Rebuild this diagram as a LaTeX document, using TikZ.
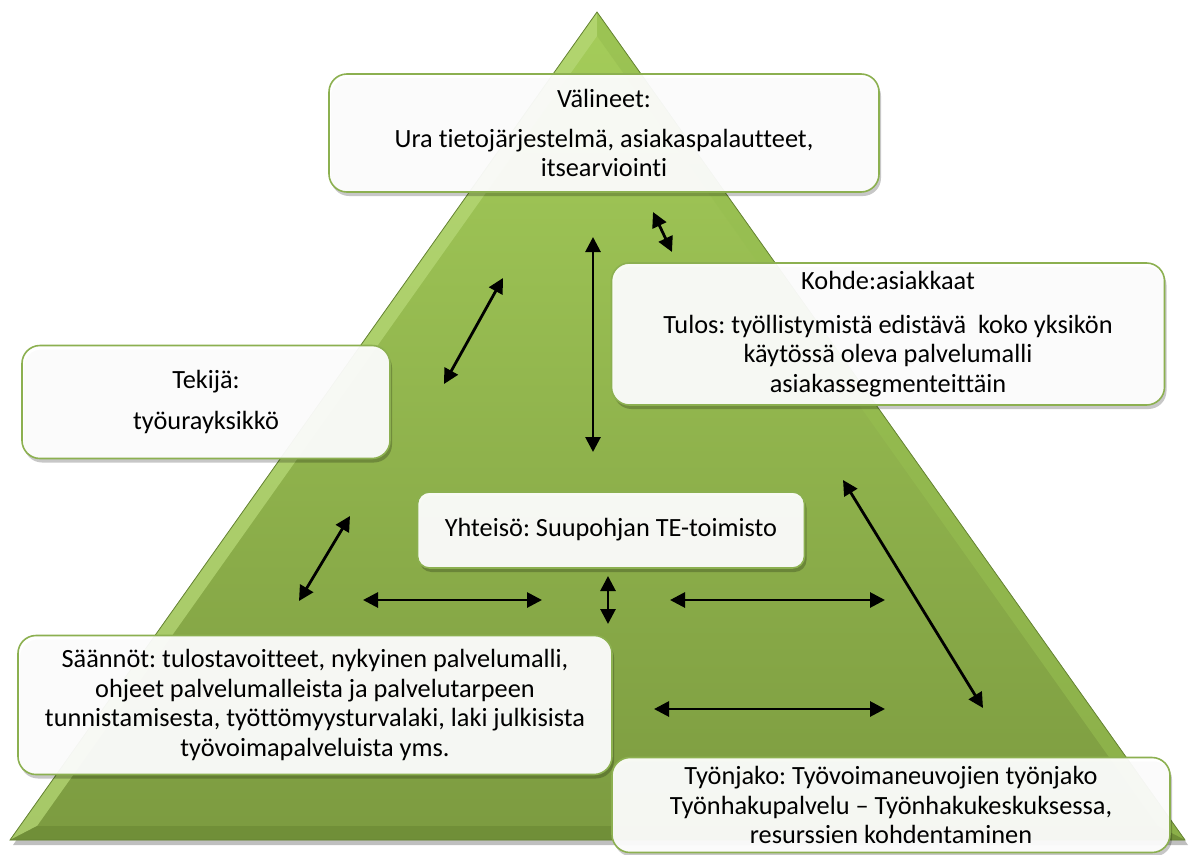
\documentclass[tikz,border=0pt]{standalone}
\usepackage{fontspec}
\setmainfont{Carlito}[Ligatures={NoCommon}]
\usetikzlibrary{arrows.meta,shadows}
\definecolor{trtop}{RGB}{165,205,90}
\definecolor{trbot}{RGB}{124,155,64}
\definecolor{bevlight}{RGB}{182,216,118}
\definecolor{bevright}{RGB}{150,190,80}
\definecolor{bevdark}{RGB}{108,138,54}
\definecolor{trline}{RGB}{100,130,50}
\definecolor{boxgreen}{RGB}{140,176,80}
\tikzset{
  box/.style={draw=boxgreen, line width=1.6pt, rounded corners=18pt, fill=white,
    fill opacity=0.94, text opacity=1, align=center, inner sep=0pt,
    font=\fontsize{26.3}{29.5}\selectfont,
    drop shadow={shadow xshift=2pt, shadow yshift=-4pt, opacity=0.22, fill=black}},
  dbl/.style={{Triangle[length=15pt,width=15pt]}-{Triangle[length=15pt,width=15pt]}, line width=2.8pt, black}
}
\frenchspacing
\begin{document}
\begin{tikzpicture}[x=1pt,y=-1pt]
\useasboundingbox (0,0) rectangle (1190,854);
% triangle shadow
\fill[black, opacity=0.25] (599,16) -- (13,845) -- (1188,845) -- cycle;
% triangle body
\shade[top color=trtop, bottom color=trbot] (597,12) -- (10,840) -- (1185,840) -- cycle;
% bevel
\fill[bevlight, opacity=0.75] (597,12) -- (10,840) -- (37,826) -- (597,36) -- cycle;
\fill[bevright, opacity=0.6] (597,12) -- (1185,840) -- (1158,826) -- (597,36) -- cycle;
\fill[bevdark, opacity=0.7] (10,840) -- (1185,840) -- (1158,826) -- (37,826) -- cycle;
\draw[trline, line width=0.8pt] (597,12) -- (10,840) -- (1185,840) -- cycle;

% boxes
\node[box, minimum width=550pt, minimum height=118pt] (val) at (604,133)
  {Välineet:\\[10pt]Ura tietojärjestelmä, asiakaspalautteet,\\itsearviointi};
\node[box, minimum width=553pt, minimum height=142pt] (koh) at (888,334)
  {Kohde:asiakkaat\\[14pt]Tulos: työllistymistä edistävä \ koko yksikön\\käytössä oleva palvelumalli\\asiakassegmenteittäin};
\node[box, minimum width=368pt, minimum height=113pt] (tek) at (206,402)
  {Tekijä:\\[11pt]työurayksikkö};
\node[box, minimum width=387pt, minimum height=76pt, rounded corners=12pt] (yht) at (611,530)
  {Yhteisö: Suupohjan TE-toimisto};
\node[box, minimum width=594pt, minimum height=139pt] (saa) at (315,705)
  {Säännöt: tulostavoitteet, nykyinen palvelumalli,\\ohjeet palvelumalleista ja palvelutarpeen\\tunnistamisesta, työttömyysturvalaki, laki julkisista\\työvoimapalveluista yms.};
\node[box, minimum width=558pt, minimum height=95pt] (tyo) at (891,805)
  {Työnjako: Työvoimaneuvojien työnjako\\Työnhakupalvelu – Työnhakukeskuksessa,\\resurssien kohdentaminen};

% arrow end points
\coordinate (a1s) at (653,212); \coordinate (a1e) at (672,252);
\coordinate (a2s) at (593,237); \coordinate (a2e) at (593,452);
\coordinate (a3s) at (503,278); \coordinate (a3e) at (444,384);
\coordinate (a4s) at (350,516); \coordinate (a4e) at (299,601);
\coordinate (a5s) at (363,600); \coordinate (a5e) at (542,600);
\coordinate (a6s) at (608,576); \coordinate (a6e) at (608,624);
\coordinate (a7s) at (670,600); \coordinate (a7e) at (885,600);
\coordinate (a8s) at (843,480); \coordinate (a8e) at (983,708);
\coordinate (a9s) at (654,709); \coordinate (a9e) at (885,709);

\foreach \i in {1,...,9} {\draw[dbl] (a\i s) -- (a\i e);}
\end{tikzpicture}
\end{document}
